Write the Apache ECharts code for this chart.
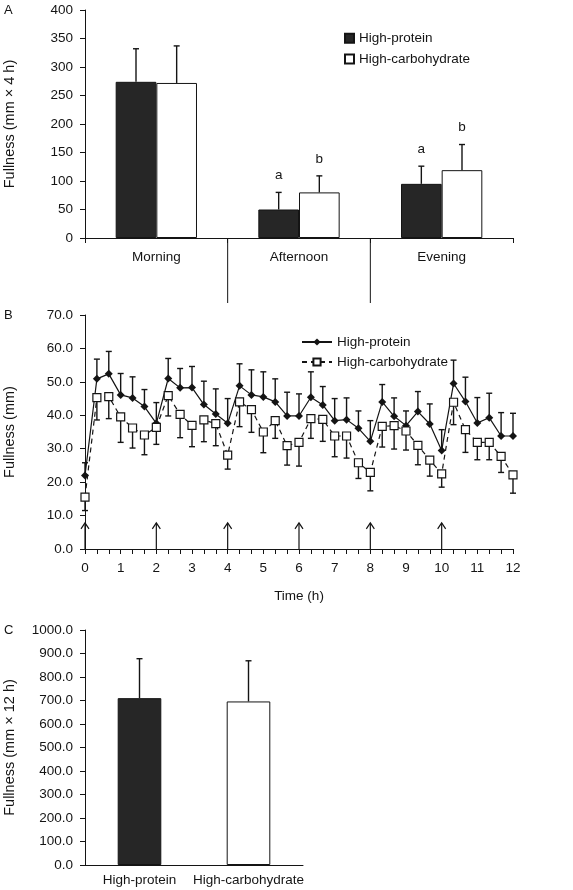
<!DOCTYPE html>
<html><head><meta charset="utf-8">
<script src="https://cdn.jsdelivr.net/npm/echarts@6/dist/echarts.min.js"></script>
<style>html,body{margin:0;padding:0;background:#fff}#c{width:573px;height:890px}</style>
</head><body><div id="c"></div>
<script>
// ---------- Panel A data ----------
const periods = ['Morning', 'Afternoon', 'Evening'];
const aHP = [274, 50, 95];
const aHPsd = [58, 30, 31];
const aHC = [272, 80, 119];
const aHCsd = [65, 29, 45];
const aLettersHP = ['', 'a', 'a'];
const aLettersHC = ['', 'b', 'b'];
const aTicks = [0, 50, 100, 150, 200, 250, 300, 350, 400];

// ---------- Panel B data ----------
const bMinutes = [0,20,40,60,80,100,120,140,160,180,200,220,240,260,280,300,320,340,360,380,400,420,440,460,480,500,520,540,560,580,600,620,640,660,680,700,720];
const bHP = [22.0,50.9,52.4,46.1,45.2,42.6,37.6,51.0,48.2,48.3,43.2,40.4,37.6,48.8,46.1,45.5,44.0,39.8,39.8,45.4,43.1,38.4,38.7,36.1,32.2,44.0,39.7,36.9,41.1,37.4,29.5,49.5,44.1,37.7,39.3,33.8,33.8];
const bHPsd = [3.8,5.9,6.7,6.4,6.3,5.1,6.2,6.0,5.8,6.3,7.0,7.5,7.4,6.6,7.5,7.5,6.9,7.1,6.6,7.6,5.5,6.6,6.5,5.2,6.2,5.2,5.5,4.4,6.0,6.0,6.2,7.0,7.3,7.6,7.3,7.0,6.8];
const bHC = [15.5,45.3,45.6,39.5,36.2,34.1,36.4,45.9,40.3,37.0,38.6,37.5,28.1,44.0,41.7,35.0,38.4,30.9,31.9,39.0,38.8,33.8,33.8,25.8,22.9,36.7,36.9,35.3,31.0,26.6,22.5,43.9,35.7,31.9,31.9,27.7,22.2];
const bHCsd = [4.0,6.7,6.6,7.6,6.0,5.9,5.1,6.1,7.0,6.4,6.5,6.6,4.2,7.4,6.8,6.2,5.3,5.8,7.1,5.9,6.6,6.2,6.6,4.7,5.5,6.2,7.0,5.7,5.8,4.8,4.0,6.7,6.8,5.2,5.2,4.8,5.5];
const mealTimes = [0, 2, 4, 6, 8, 10];
const arrowTop = 7.8;

// ---------- Panel C data ----------
const cLabels = ['High-protein', 'High-carbohydrate'];
const cVals = [710, 696];
const cSD = [168, 173];

// ---------- styles ----------
const FONT = 'Liberation Sans, Arial, Helvetica, sans-serif';
const INK = '#141414';
const DARK = '#262626';
const lbl = { color: INK, fontFamily: FONT, fontSize: 13.5 };
const axisLine = { show: true, lineStyle: { color: INK, width: 1 } };
const axisTick = { show: true, length: 5, lineStyle: { color: INK, width: 1 } };
const BARGAP_A = 0.43;

function errBar(opts) {
  return {
    type: 'custom', xAxisIndex: opts.x, yAxisIndex: opts.y, z: opts.z || 1, silent: true,
    clip: false,
    data: opts.data,
    renderItem: function (params, api) {
      const xv = api.value(0), v = api.value(1), sd = api.value(2);
      const p = api.coord([xv, v]);
      const t = api.coord([xv, v + opts.dir * sd]);
      let x = p[0];
      if (opts.barFrac) {
        const band = api.size([1, 0])[0];
        const bw = band * opts.barFrac;
        x += opts.offset * bw;
      }
      const cap = opts.cap || 3;
      const st = { stroke: INK, lineWidth: 1.4 };
      const ch = [
        { type: 'line', shape: { x1: x, y1: p[1], x2: x, y2: t[1] }, style: st },
        { type: 'line', shape: { x1: x - cap, y1: t[1], x2: x + cap, y2: t[1] }, style: st }
      ];
      if (opts.letters && opts.letters[params.dataIndex]) {
        ch.push({ type: 'text', style: { text: opts.letters[params.dataIndex], x: x, y: t[1] - 10,
          align: 'center', verticalAlign: 'bottom', fill: INK, font: '13.5px ' + FONT } });
      }
      return { type: 'group', children: ch };
    }
  };
}

const chart = echarts.init(document.getElementById('c'), null, { renderer: 'canvas' });

const bTimes = bMinutes.map(m => m / 60);

const option = {
  animation: false,
  backgroundColor: '#fff',
  textStyle: { fontFamily: FONT, color: INK },
  grid: [
    { left: 85, top: 10, width: 428, height: 228, containLabel: false, outerBoundsMode: 'none' },
    { left: 85, top: 315, width: 428, height: 234, containLabel: false, outerBoundsMode: 'none' },
    { left: 85, top: 630, width: 218, height: 235, containLabel: false, outerBoundsMode: 'none' }
  ],
  graphic: [
    { type: 'text', left: 4, top: 4, style: { text: 'A', font: '13px ' + FONT, fill: INK } },
    { type: 'text', left: 4, top: 309, style: { text: 'B', font: '13px ' + FONT, fill: INK } },
    { type: 'text', left: 4, top: 624, style: { text: 'C', font: '13px ' + FONT, fill: INK } }
  ],
  legend: [
    { orient: 'vertical', left: 339, top: 25, itemWidth: 9, itemHeight: 9, itemGap: 4, icon: 'rect',
      textStyle: Object.assign({ lineHeight: 16.6 }, lbl), data: ['High-protein', 'High-carbohydrate'] },
    { orient: 'vertical', left: 296, top: 329, itemWidth: 30, itemHeight: 9, itemGap: 4,
      textStyle: Object.assign({ lineHeight: 16 }, lbl), data: ['B|High-protein', 'B|High-carbohydrate'],
      formatter: n => n.replace('B|', '') }
  ],
  xAxis: [
    { gridIndex: 0, type: 'category', data: periods, boundaryGap: true,
      axisLine, axisTick: Object.assign({ alignWithLabel: false }, axisTick),
      axisLabel: Object.assign({ margin: 12 }, lbl), splitLine: { show: false } },
    { gridIndex: 1, type: 'value', min: 0, max: 12, interval: 1,
      axisLine, axisTick, minorTick: { show: true, splitNumber: 3, length: 5, lineStyle: { color: INK, width: 1 } },
      axisLabel: Object.assign({ margin: 12 }, lbl), splitLine: { show: false },
      name: 'Time (h)', nameLocation: 'middle', nameGap: 40, nameTextStyle: Object.assign({}, lbl) },
    { gridIndex: 2, type: 'category', data: cLabels, boundaryGap: true,
      axisLine, axisTick: { show: false },
      axisLabel: Object.assign({ margin: 8, interval: 0, hideOverlap: false }, lbl), splitLine: { show: false } }
  ],
  yAxis: [
    { gridIndex: 0, type: 'value', min: aTicks[0], max: aTicks[aTicks.length - 1], interval: 50,
      axisLine, axisTick, axisLabel: Object.assign({ margin: 12 }, lbl), splitLine: { show: false },
      name: 'Fullness (mm × 4 h)', nameLocation: 'middle', nameGap: 68,
      nameTextStyle: Object.assign({}, lbl, { fontSize: 14.5 }) },
    { gridIndex: 1, type: 'value', min: 0, max: 70, interval: 10,
      axisLine, axisTick, axisLabel: Object.assign({ margin: 12, formatter: v => v.toFixed(1) }, lbl),
      splitLine: { show: false },
      name: 'Fullness (mm)', nameLocation: 'middle', nameGap: 68,
      nameTextStyle: Object.assign({}, lbl, { fontSize: 14.5 }) },
    { gridIndex: 2, type: 'value', min: 0, max: 1000, interval: 100,
      axisLine, axisTick, axisLabel: Object.assign({ margin: 12, formatter: v => v.toFixed(1) }, lbl),
      splitLine: { show: false },
      name: 'Fullness (mm × 12 h)', nameLocation: 'middle', nameGap: 68,
      nameTextStyle: Object.assign({}, lbl, { fontSize: 14.5 }) }
  ],
  series: [
    { name: 'High-protein', type: 'bar', xAxisIndex: 0, yAxisIndex: 0, data: aHP,
      barGap: '0%', barCategoryGap: (BARGAP_A * 100) + '%',
      itemStyle: { color: DARK, borderColor: INK, borderWidth: 1 } },
    { name: 'High-carbohydrate', type: 'bar', xAxisIndex: 0, yAxisIndex: 0, data: aHC,
      barGap: '0%', barCategoryGap: (BARGAP_A * 100) + '%',
      itemStyle: { color: '#fff', borderColor: INK, borderWidth: 1 } },
    errBar({ x: 0, y: 0, dir: 1, data: aHP.map((v, i) => [i, v, aHPsd[i]]), barFrac: (1 - BARGAP_A) / 2, offset: -0.5, letters: aLettersHP }),
    errBar({ x: 0, y: 0, dir: 1, data: aHC.map((v, i) => [i, v, aHCsd[i]]), barFrac: (1 - BARGAP_A) / 2, offset: 0.5, letters: aLettersHC }),
    { type: 'custom', xAxisIndex: 0, yAxisIndex: 0, silent: true, clip: false,
      data: periods.slice(0, -1).map((p, i) => [i, 0]),
      renderItem: function (params, api) {
        const p = api.coord([api.value(0), 0]);
        const band = api.size([1, 0])[0];
        const x = p[0] + band / 2;
        return { type: 'line', shape: { x1: x, y1: p[1], x2: x, y2: p[1] + 65 }, style: { stroke: INK, lineWidth: 1 } };
      } },
    errBar({ x: 1, y: 1, dir: 1, data: bHP.map((v, i) => [bTimes[i], v, bHPsd[i]]), z: 1 }),
    errBar({ x: 1, y: 1, dir: -1, data: bHC.map((v, i) => [bTimes[i], v, bHCsd[i]]), z: 1 }),
    { name: 'B|High-protein', type: 'line', xAxisIndex: 1, yAxisIndex: 1, z: 3,
      data: bHP.map((v, i) => [bTimes[i], v]),
      symbol: 'diamond', symbolSize: 8, showAllSymbol: true,
      lineStyle: { color: INK, width: 1.2 }, itemStyle: { color: INK, borderColor: INK, borderWidth: 0 } },
    { name: 'B|High-carbohydrate', type: 'line', xAxisIndex: 1, yAxisIndex: 1, z: 4,
      data: bHC.map((v, i) => [bTimes[i], v]),
      symbol: 'rect', symbolSize: 8, showAllSymbol: true,
      lineStyle: { color: INK, width: 1.2, type: [5, 4] }, itemStyle: { color: '#fff', borderColor: INK, borderWidth: 1.2 } },
    { type: 'custom', xAxisIndex: 1, yAxisIndex: 1, silent: true, z: 2,
      data: mealTimes.map(t => [t, arrowTop]),
      renderItem: function (params, api) {
        const b = api.coord([api.value(0), 0]);
        const t = api.coord([api.value(0), api.value(1)]);
        const st = { stroke: INK, lineWidth: 1.2, fill: null };
        return { type: 'group', children: [
          { type: 'line', shape: { x1: b[0], y1: b[1], x2: t[0], y2: t[1] }, style: st },
          { type: 'polyline', shape: { points: [[t[0] - 4, t[1] + 6], [t[0], t[1]], [t[0] + 4, t[1] + 6]] }, style: st }
        ] };
      } },
    { name: 'C', type: 'bar', xAxisIndex: 2, yAxisIndex: 2, barWidth: '40%',
      data: cVals.map((v, i) => ({ value: v, itemStyle: i === 0
        ? { color: DARK, borderColor: INK, borderWidth: 1 }
        : { color: '#fff', borderColor: INK, borderWidth: 1 } })) },
    errBar({ x: 2, y: 2, dir: 1, data: cVals.map((v, i) => [i, v, cSD[i]]) })
  ]
};
chart.setOption(option);
</script>
</body></html>
